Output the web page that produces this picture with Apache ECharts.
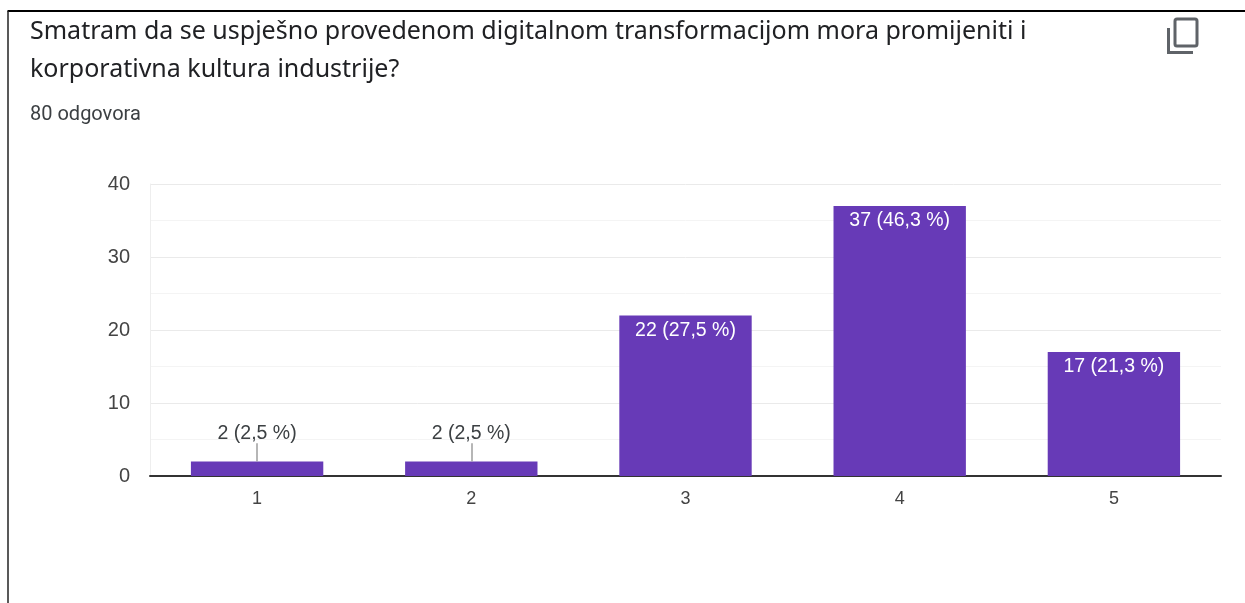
<!DOCTYPE html>
<html><head><meta charset="utf-8">
<style>html,body{margin:0;padding:0;background:#fff}#c{width:1245px;height:603px}</style>
<script src="https://cdn.jsdelivr.net/npm/echarts@6/dist/echarts.min.js"></script>
</head><body><div id="c"></div>
<script>
const titleLine1 = "Smatram da se uspješno provedenom digitalnom transformacijom mora promijeniti i";
const titleLine2 = "korporativna kultura industrije?";
const responses = "80 odgovora";
const categories = ["1","2","3","4","5"];
const counts = [2,2,22,37,17];
const labels = ["2 (2,5 %)","2 (2,5 %)","22 (27,5 %)","37 (46,3 %)","17 (21,3 %)"];
const stemTop = 4.5;
const outsideMax = 2;

const chart = echarts.init(document.getElementById('c'), null, {renderer:'canvas'});
const font = '"Noto Sans", Roboto, sans-serif';
const tickFont = '"Liberation Sans", Arial, sans-serif';
chart.setOption({
  animation:false,
  backgroundColor:'#fff',
  title:[
    {text:titleLine1,left:30,top:19,textStyle:{fontFamily:font,fontSize:25,fontWeight:400,color:'#202124'},padding:0},
    {text:titleLine2,left:30,top:57,textStyle:{fontFamily:font,fontSize:25,fontWeight:400,color:'#202124'},padding:0},
    {text:responses,left:30,top:105,textStyle:{fontFamily:'Roboto, sans-serif',fontSize:20,fontWeight:400,color:'#3c4043'},padding:0}
  ],
  grid:{left:150,width:1071,top:184,height:292,containLabel:false},
  xAxis:{type:'category',data:categories,
    axisLine:{lineStyle:{color:'#333',width:2}},axisTick:{show:false},
    axisLabel:{margin:14,fontFamily:tickFont,fontSize:18,color:'#444'},
    splitLine:{show:false}},
  yAxis:{type:'value',min:0,max:40,interval:10,
    axisLine:{show:true,lineStyle:{color:'#eeeeee',width:1}},axisTick:{show:false},
    axisLabel:{margin:20,fontFamily:tickFont,fontSize:20,color:'#444',padding:[3,0,0,0]},
    splitLine:{show:true,lineStyle:{color:'#eaeaea',width:1}},
    minorTick:{show:false,splitNumber:2},
    minorSplitLine:{show:true,lineStyle:{color:'#f4f4f4',width:1}}},
  series:[{
    type:'bar',barWidth:'61.8%',
    data:counts.map((v,i)=>({
      value:v,
      label:{
        show:true,
        formatter:labels[i],
        position: v<=outsideMax?'top':'insideTop',
        distance: v<=outsideMax?18:5,
        color: v<=outsideMax?'#3c4043':'#fff',
        fontFamily:tickFont,fontSize:19.5
      }
    })),
    itemStyle:{color:'#673ab7'},
    markLine:{
      silent:true,symbol:'none',animation:false,label:{show:false},
      lineStyle:{color:'#9e9e9e',width:1.5,type:'solid'},
      data:categories.map((c,i)=>counts[i]<=outsideMax?[{xAxis:c,yAxis:counts[i]},{xAxis:c,yAxis:stemTop}]:null).filter(Boolean)
    }
  }],
  graphic:[
    {type:'line',shape:{x1:7.5,y1:11,x2:1245,y2:11},style:{stroke:'#000',lineWidth:2}},
    {type:'line',shape:{x1:8,y1:11,x2:8,y2:603},style:{stroke:'#222',lineWidth:1.5}},
    {type:'rect',shape:{x:1175,y:19,width:22,height:27,r:2},style:{fill:'none',stroke:'#5f6368',lineWidth:3}},
    {type:'polyline',shape:{points:[[1168.5,28],[1168.5,52.5],[1193,52.5]]},style:{fill:'none',stroke:'#5f6368',lineWidth:3}}
  ]
});
</script></body></html>
